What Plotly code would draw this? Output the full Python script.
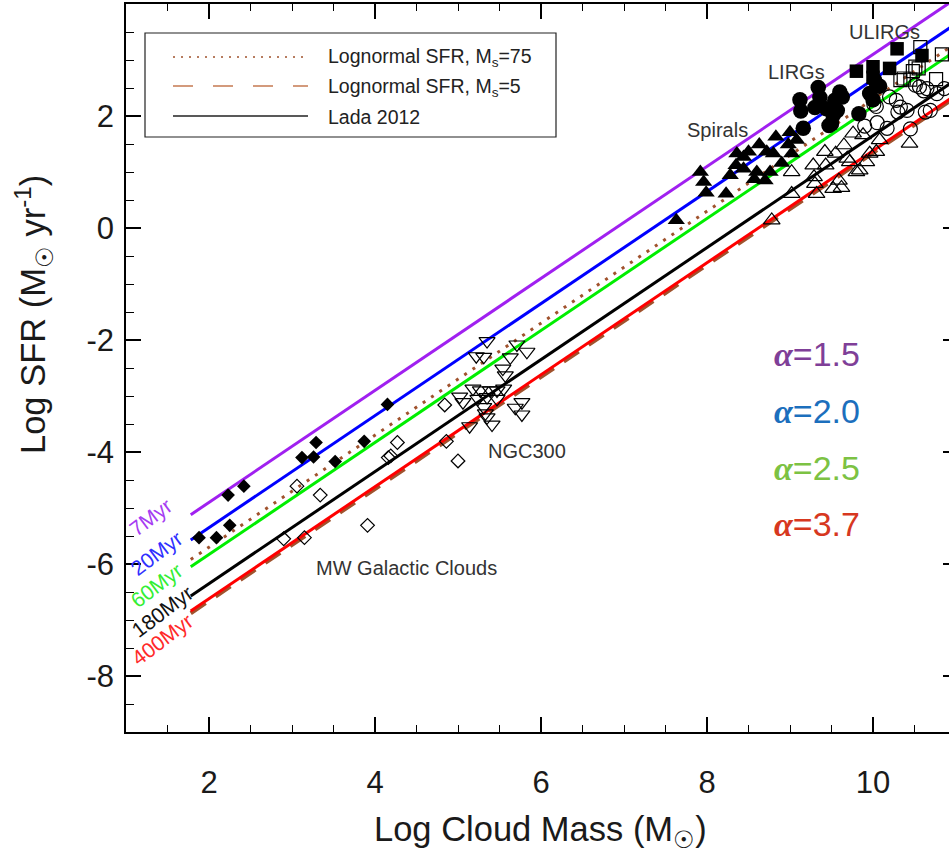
import plotly.graph_objects as go

# ---------------- data ----------------
# Model lines: log SFR at the start / end of each line (x = log cloud mass)
line_x = [1.78, 11.0]
age_labels = ["7Myr", "20Myr", "60Myr", "180Myr", "400Myr"]
age_y_start = [-5.12, -5.57, -6.05, -6.57, -6.84]
age_y_end = [4.10, 3.65, 3.17, 2.65, 2.38]

lognorm_labels = ["Lognormal SFR, M<sub>s</sub>=75", "Lognormal SFR, M<sub>s</sub>=5"]
lognorm_y_start = [-5.92, -6.88]
lognorm_y_end = [3.30, 2.34]

alpha_labels = ["1.5", "2.0", "2.5", "3.7"]

x_tick_vals = [2, 4, 6, 8, 10]
x_tick_text = ["2", "4", "6", "8", "10"]
y_tick_vals = [-8, -6, -4, -2, 0, 2, 4]
y_tick_text = ["-8", "-6", "-4", "-2", "0", "2", "4"]

# Filled diamonds (low-mass clouds)
fdiam_x = [1.88, 2.09, 2.25, 2.23, 2.42, 3.12, 3.26, 3.29, 3.52, 3.87, 4.15]
fdiam_y = [-5.53, -5.53, -5.31, -4.77, -4.61, -4.10, -4.09, -3.83, -4.17, -3.81, -3.15]

# Open diamonds (MW Galactic Clouds)
odiam_x = [2.90, 3.15, 3.06, 3.34, 3.91, 4.16, 4.19, 4.27, 4.84, 4.86, 5.00]
odiam_y = [-5.55, -5.53, -4.61, -4.77, -5.31, -4.10, -4.07, -3.83, -3.16, -3.81, -4.16]

# Open down-triangles (NGC300)
ngc_x = [5.35, 5.22, 5.31, 5.71, 5.83, 5.63, 5.54, 5.57, 5.18, 5.27, 5.39, 5.47, 5.55,
         5.02, 5.06, 5.24, 5.35, 5.47, 5.31, 5.33, 5.77, 5.69, 5.77, 5.14, 5.41, 5.35]
ngc_y = [-2.02, -2.29, -2.30, -2.08, -2.21, -2.31, -2.51, -2.63, -2.87, -2.90, -2.90, -2.90, -2.87,
         -3.01, -3.11, -3.05, -3.02, -3.05, -3.20, -3.31, -3.11, -3.21, -3.33, -3.54, -3.51, -3.38]

# Filled up-triangles (Spirals)
spir_x = [7.63, 7.92, 7.96, 7.99, 8.23, 8.28, 8.36, 8.35, 8.44, 8.44, 8.50, 8.57,
          8.60, 8.63, 8.70, 8.72, 8.76, 8.80, 8.83, 8.90, 8.98, 9.02, 9.00, 9.08]
spir_y = [0.14, 1.00, 0.82, 0.63, 0.61, 0.94, 1.33, 1.12, 1.27, 1.06, 1.36, 0.87,
          1.00, 1.49, 0.85, 1.36, 1.00, 1.33, 1.63, 1.16, 1.49, 1.33, 1.71, 1.57]

# Open up-triangles
otri_x = [8.78, 9.02, 9.02, 9.28, 9.30, 9.32, 9.29, 9.42, 9.43, 9.52, 9.55, 9.59, 9.62,
          9.65, 9.69, 9.72, 9.76, 9.80, 9.84, 9.88, 9.92, 9.96, 10.04, 10.08, 10.44]
otri_y = [0.14, 0.61, 1.00, 1.12, 0.79, 0.61, 0.91, 1.36, 1.12, 0.70, 1.33, 0.85, 0.72,
          1.48, 1.24, 1.18, 1.69, 1.00, 1.03, 1.66, 1.18, 1.33, 1.36, 1.57, 1.51]

# Filled circles (LIRGs)
lirg_x = [9.12, 9.13, 9.16, 9.30, 9.34, 9.36, 9.44, 9.47, 9.50, 9.52, 9.57, 9.60, 9.63,
          9.54, 9.83, 9.96, 10.00, 10.02, 10.08]
lirg_y = [2.29, 2.09, 1.78, 2.15, 2.51, 2.33, 2.13, 1.83, 1.86, 2.01, 2.10, 2.43, 2.34,
          2.28, 2.04, 2.40, 2.29, 2.64, 2.53]

# Open circles
ocirc_x = [10.04, 10.20, 10.28, 10.33, 10.30, 10.41, 10.56, 10.61, 10.65, 10.86,
           9.90, 10.05, 10.17, 10.45, 10.69, 10.63, 10.77, 10.01, 10.51]
ocirc_y = [2.17, 2.34, 2.28, 2.16, 2.07, 2.10, 2.52, 2.45, 2.49, 2.49,
           1.82, 1.88, 1.78, 1.77, 2.10, 2.07, 2.40, 2.21, 2.55]

# Filled squares (ULIRGs)
ulirg_x = [9.80, 10.00, 10.00, 10.20, 10.29, 10.59]
ulirg_y = [2.80, 2.88, 2.69, 2.85, 3.20, 3.08]

# Open squares
osq_x = [10.57, 10.83, 10.51, 10.48, 10.37, 10.45, 10.55, 10.76, 10.33]
osq_y = [3.23, 3.10, 2.88, 2.80, 2.67, 2.65, 2.85, 2.66, 2.64]

# ---------------- styling ----------------
FONT = "Liberation Sans, Arial, Helvetica, sans-serif"
W, H = 949, 858
L, R, T, B = 126, 0, 4, 126
PW, PH = W - L - R, H - T - B


def fx(p):  # pixel -> paper x
    return (p - L) / PW


def fy(p):  # pixel -> paper y
    return (H - B - p) / PH


age_colors = ["#a020f0", "#0000ff", "#00ee00", "#000000", "#ff0000"]
age_text_colors = ["#a63cf2", "#3030ff", "#33ee33", "#111111", "#ff2a2a"]
alpha_colors = ["#7f3f98", "#1c6fbd", "#7cc243", "#d7381f"]
SIENNA = "#a0522d"

fig = go.Figure()

# dashed lognormal (Ms=5) first so that the red line sits on top
fig.add_trace(go.Scatter(x=line_x, y=[lognorm_y_start[1], lognorm_y_end[1]], mode="lines",
                         line=dict(color=SIENNA, width=4, dash="18px,12px"), hoverinfo="skip"))
# age lines (drawn back to front: red, black, green, blue, purple)
for i in [4, 3, 2, 1, 0]:
    fig.add_trace(go.Scatter(x=line_x, y=[age_y_start[i], age_y_end[i]], mode="lines",
                             line=dict(color=age_colors[i], width=3), hoverinfo="skip"))
# dotted lognormal (Ms=75)
fig.add_trace(go.Scatter(x=line_x, y=[lognorm_y_start[0], lognorm_y_end[0]], mode="lines",
                         line=dict(color=SIENNA, width=3, dash="3px,7px"), hoverinfo="skip"))


def pts(x, y, symbol, size, lw=1.2):
    fig.add_trace(go.Scatter(x=x, y=y, mode="markers",
                             marker=dict(symbol=symbol, size=size, color="black",
                                         line=dict(color="black", width=lw))))


pts(odiam_x, odiam_y, "diamond-open", 10.5, 1.2)
pts(fdiam_x, fdiam_y, "diamond", 10.5, 0)
pts(ngc_x, ngc_y, "triangle-down-open", 14, 1.2)
pts(otri_x, otri_y, "triangle-up-open", 14.5, 1.2)
pts(spir_x, spir_y, "triangle-up", 15, 0)
pts(ocirc_x, ocirc_y, "circle-open", 14, 1.2)
pts(lirg_x, lirg_y, "circle", 15.5, 0)
pts(osq_x, osq_y, "square-open", 13, 1.2)
pts(ulirg_x, ulirg_y, "square", 13.5, 0)

# empty helper trace so the right-hand tick axis is drawn
fig.add_trace(go.Scatter(x=[1], y=[-50], yaxis="y2", mode="markers", marker=dict(size=1, opacity=0),
                         hoverinfo="skip"))

axis_common = dict(
    showline=True, linecolor="black", linewidth=1.5,
    ticks="inside", tickcolor="black", tickwidth=1.5, ticklen=15,
    showgrid=False, zeroline=False, tickmode="array",
    tickfont=dict(family=FONT, size=31, color="#1a1a1a"),
)

fig.update_layout(
    width=W, height=H,
    margin=dict(l=L, r=R, t=T, b=B, pad=0),
    paper_bgcolor="white", plot_bgcolor="white",
    showlegend=False,
    font=dict(family=FONT),
    xaxis=dict(range=[1, 1 + PW / 83.0], tickvals=x_tick_vals, ticktext=x_tick_text, mirror="ticks",
               minor=dict(dtick=0.5, tick0=0, ticks="inside", ticklen=7, tickwidth=1.2, tickcolor="black"),
               ticklabelstandoff=22, **axis_common),
    yaxis=dict(range=[-9, 4], tickvals=y_tick_vals, ticktext=y_tick_text, mirror=False,
               minor=dict(dtick=0.5, tick0=0, ticks="inside", ticklen=8, tickwidth=1.2, tickcolor="black"),
               ticklabelstandoff=4, **axis_common),
    yaxis2=dict(range=[-9, 4], overlaying="y", side="right", showline=False, showgrid=False,
                zeroline=False, tickmode="array", tickvals=y_tick_vals, showticklabels=False,
                ticks="inside", ticklen=6, tickwidth=1.5, tickcolor="black"),
)

ann = []


def add_text(txt, xp, yp, size, color, angle=0, xanchor="center"):
    ann.append(dict(x=fx(xp), y=fy(yp), xref="paper", yref="paper", showarrow=False,
                    xanchor=xanchor, yanchor="middle", text=txt, textangle=angle,
                    font=dict(family=FONT, size=size, color=color)))


# axis titles
add_text("Log Cloud Mass (M<sub>☉</sub>)", 540, 831, 34.5, "#1a1a1a")
add_text("Log SFR (M<sub>☉</sub> yr<sup>-1</sup>)", 33, 315, 34.5, "#1a1a1a", angle=-90)

# group labels
for txt, xp, yp in [("ULIRGs", 884, 32), ("LIRGs", 796, 72), ("Spirals", 717, 130),
                    ("NGC300", 527, 451), ("MW Galactic Clouds", 406, 568)]:
    add_text(txt, xp, yp, 20, "#333333")

# age labels (rotated)
for txt, col, (xp, yp) in zip(age_labels, age_text_colors,
                              [(150, 517), (156, 553), (156, 585), (162, 611), (162, 639)]):
    add_text(txt, xp, yp, 21, col, angle=-37)

# alpha labels
for txt, col, yp in zip(alpha_labels, alpha_colors, [354, 411, 468, 524]):
    add_text("<span style='font-family:Liberation Serif, Times New Roman, serif'><b><i>α</i></b></span>=" + txt,
             772, yp, 34, col, xanchor="left")

# legend (drawn by hand to match the long line samples)
shapes = [dict(type="rect", xref="paper", yref="paper", x0=fx(145), x1=fx(556), y0=fy(33), y1=fy(137),
               line=dict(color="#222222", width=1.2), fillcolor="white", layer="above")]
leg_rows = [(57, SIENNA, 1.5, "2px,6px"), (86, "#d39a7c", 2, "20px,20px"), (116, "#222222", 1.3, "solid")]
leg_texts = [lognorm_labels[0], lognorm_labels[1], "Lada 2012"]
for (yp, col, wdt, dsh), txt in zip(leg_rows, leg_texts):
    shapes.append(dict(type="line", xref="paper", yref="paper", x0=fx(173), x1=fx(308), y0=fy(yp), y1=fy(yp),
                       line=dict(color=col, width=wdt, dash=dsh), layer="above"))
    add_text(txt, 326, yp + 1, 19.5, "#222222", xanchor="left")

fig.update_layout(annotations=ann, shapes=shapes)
fig.write_html("out.html", config={"displayModeBar": False},
               post_script="document.body.style.margin='0';")
